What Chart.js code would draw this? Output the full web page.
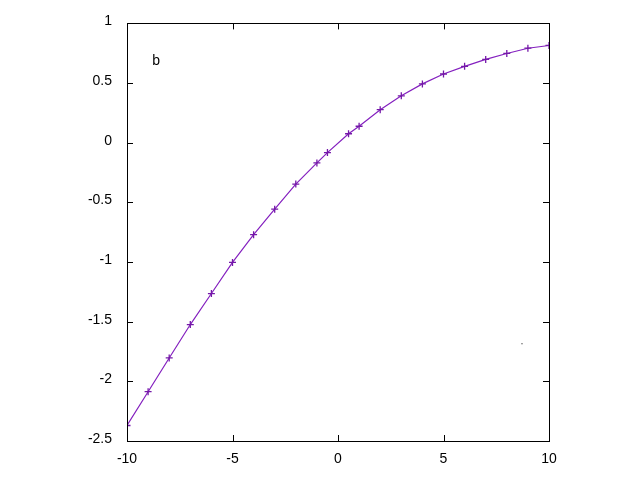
<!DOCTYPE html>
<html>
<head>
<meta charset="utf-8">
<script src="https://cdn.jsdelivr.net/npm/chart.js@4/dist/chart.umd.min.js"></script>
<style>
  html,body{margin:0;padding:0;background:#fff;}
  #wrap{width:640px;height:480px;}
</style>
</head>
<body>
<div id="wrap"><canvas id="c" width="640" height="480"></canvas></div>
<script>
// values
const X_VALS = [-10,-9,-8,-7,-6,-5,-4,-3,-2,-1,-0.5,0.5,1,2,3,4,5,6,7,8,9,10];
const Y_VALS = [-2.37,-2.087,-1.804,-1.524,-1.264,-1.003,-0.771,-0.557,-0.347,-0.169,-0.083,0.075,0.138,0.277,0.393,0.493,0.576,0.64,0.698,0.748,0.792,0.815];
const X_TICKS = [-10,-5,0,5,10];
const Y_TICKS = [-2.5,-2,-1.5,-1,-0.5,0,0.5,1];
const LABEL_B = {x:-8.8, y:0.684, text:'b'};
const DOT = [{x:8.72, y:-1.685}];

const FONT = {family:'"Liberation Sans", Arial, sans-serif', size:14};
const LINE_COL = '#8420bf';
const MARK_COL = '#7418a8';

// gnuplot style frame: full box + inward ticks on all four sides
const framePlugin = {
  id:'frame',
  afterDatasetsDraw(chart) {
    const {ctx, chartArea:a, scales:{x, y}} = chart;
    ctx.save();
    ctx.strokeStyle = '#000';
    ctx.lineWidth = 1;
    ctx.beginPath();
    X_TICKS.forEach(v => {
      const px = Math.round(x.getPixelForValue(v)) + 0.5;
      ctx.moveTo(px, a.bottom); ctx.lineTo(px, a.bottom - 6);
      ctx.moveTo(px, a.top); ctx.lineTo(px, a.top + 6);
    });
    Y_TICKS.forEach(v => {
      const py = Math.round(y.getPixelForValue(v)) + 0.5;
      ctx.moveTo(a.left, py); ctx.lineTo(a.left + 6, py);
      ctx.moveTo(a.right, py); ctx.lineTo(a.right - 6, py);
    });
    ctx.stroke();
    ctx.strokeRect(Math.round(a.left)+0.5, Math.round(a.top)+0.5, Math.round(a.right-a.left), Math.round(a.bottom-a.top));
    ctx.fillStyle = '#000';
    ctx.font = FONT.size + 'px ' + FONT.family;
    ctx.textAlign = 'left';
    ctx.textBaseline = 'middle';
    ctx.fillText(LABEL_B.text, x.getPixelForValue(LABEL_B.x), y.getPixelForValue(LABEL_B.y));
    ctx.restore();
  }
};

new Chart(document.getElementById('c'), {
  type:'scatter',
  data:{datasets:[
    {
      data:X_VALS.map((v,i)=>({x:v, y:Y_VALS[i]})),
      showLine:true,
      borderColor:LINE_COL,
      borderWidth:1.2,
      tension:0,
      pointStyle:'cross',
      pointRadius:3.5,
      pointBorderWidth:1.3,
      pointBorderColor:MARK_COL,
      pointBackgroundColor:MARK_COL,
      clip:{left:0, top:0, right:0, bottom:0}
    },
    {
      data:DOT,
      pointStyle:'rect',
      pointRadius:0.8,
      pointBorderWidth:0,
      pointBackgroundColor:'#222'
    }
  ]},
  options:{
    responsive:false,
    animation:false,
    events:[],
    layout:{padding:{top:20, right:91, left:0, bottom:0}},
    plugins:{legend:{display:false}, tooltip:{enabled:false}},
    scales:{
      x:{
        type:'linear', min:-10, max:10,
        afterBuildTicks(s){ s.ticks = X_TICKS.map(v=>({value:v})); },
        afterFit(s){ s.height = 39; },
        grid:{display:false, drawTicks:false},
        border:{display:false},
        ticks:{color:'#000', font:FONT, padding:10, maxRotation:0, callback:v=>String(v)}
      },
      y:{
        type:'linear', min:-2.5, max:1,
        afterBuildTicks(s){ s.ticks = Y_TICKS.map(v=>({value:v})); },
        afterFit(s){ s.width = 127; },
        grid:{display:false, drawTicks:false},
        border:{display:false},
        ticks:{color:'#000', font:FONT, padding:15, labelOffset:-2, callback:v=>String(v)}
      }
    }
  },
  plugins:[framePlugin]
});
</script>
</body>
</html>
